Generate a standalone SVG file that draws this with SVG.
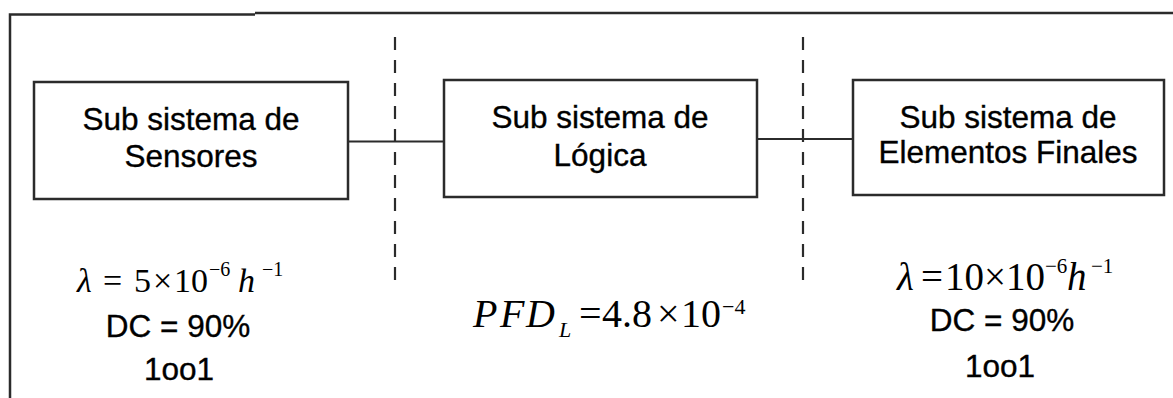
<svg xmlns="http://www.w3.org/2000/svg" width="1173" height="398" viewBox="0 0 1173 398">
<style>
.frame{fill:none;stroke:#2b2b2b;stroke-width:2.5}
.box{fill:#fff;stroke:#2b2b2b;stroke-width:2.5}
.conn{fill:none;stroke:#2b2b2b;stroke-width:2.2}
.dash{fill:none;stroke:#2b2b2b;stroke-width:2.2;stroke-dasharray:13 10}
.lbl{font-family:"Liberation Sans",Arial,sans-serif;font-size:31.5px;fill:#000;stroke:#000;stroke-width:0.35;text-anchor:middle}
.math{font-family:"Liberation Serif","Times New Roman",serif;fill:#000}
.it{font-style:italic}
</style>
<rect width="1173" height="398" fill="#fff"/>
<g id="frame">
<polyline class="frame" points="10,398 10,14.5 255,14.5"/>
<line class="frame" x1="255" y1="13" x2="1173" y2="13"/>
</g>
<g id="connectors">
<line class="conn" x1="348" y1="141.5" x2="444" y2="141.5"/>
<line class="conn" x1="757" y1="139" x2="853" y2="139"/>
<line class="dash" x1="395" y1="37" x2="395" y2="290"/>
<line class="dash" x1="803" y1="37" x2="803" y2="288"/>
</g>
<g id="sensores">
<rect class="box" x="34" y="82" width="314" height="117"/>
<text class="lbl" x="191" y="130">Sub sistema de</text>
<text class="lbl" x="191" y="167">Sensores</text>
</g>
<g id="logica">
<rect class="box" x="444" y="80" width="313" height="117"/>
<text class="lbl" x="600" y="128">Sub sistema de</text>
<text class="lbl" x="600" y="166">Lógica</text>
</g>
<g id="finales">
<rect class="box" x="853" y="80" width="311" height="115"/>
<text class="lbl" x="1008" y="128">Sub sistema de</text>
<text class="lbl" x="1008" y="163">Elementos Finales</text>
</g>
<g id="sensores-data">
<text class="math" font-size="34" y="292"><tspan class="it" x="77">λ</tspan><tspan x="103">=</tspan><tspan x="134">5</tspan><tspan x="153">×</tspan><tspan x="174">10</tspan><tspan x="209" y="276" font-size="20">−6</tspan><tspan class="it" x="238" y="292">h</tspan><tspan x="262" y="276" font-size="20">−1</tspan></text>
<text class="lbl" x="178" y="337">DC = 90%</text>
<text class="lbl" x="179" y="380">1oo1</text>
</g>
<g id="logica-data">
<text class="math" font-size="40" y="327"><tspan class="it" x="473">P</tspan><tspan class="it" x="500">F</tspan><tspan class="it" x="526">D</tspan><tspan class="it" x="559" y="337" font-size="22">L</tspan><tspan x="579" y="327">=</tspan><tspan x="602">4.8</tspan><tspan x="657">×</tspan><tspan x="681">10</tspan><tspan x="722" y="314" font-size="22">−4</tspan></text>
</g>
<g id="finales-data">
<text class="math" font-size="39" y="290"><tspan class="it" x="897">λ</tspan><tspan x="921">=</tspan><tspan x="945">10</tspan><tspan x="984">×</tspan><tspan x="1006">10</tspan><tspan x="1045" y="273" font-size="21">−6</tspan><tspan class="it" x="1067" y="290">h</tspan><tspan x="1091" y="273" font-size="21">−1</tspan></text>
<text class="lbl" x="1002" y="331">DC = 90%</text>
<text class="lbl" x="1000" y="377">1oo1</text>
</g>
</svg>
